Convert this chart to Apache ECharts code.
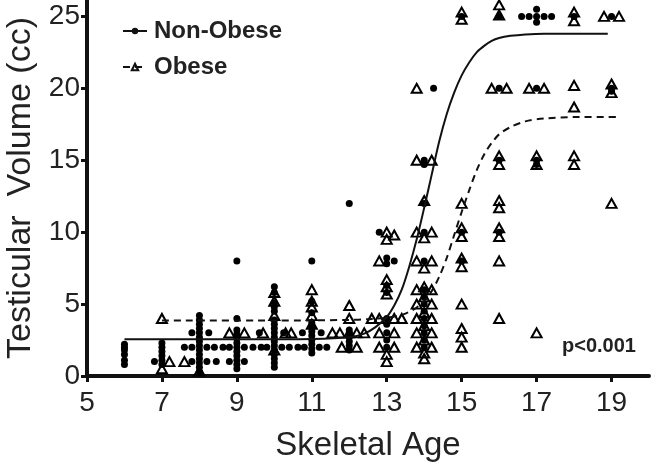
<!DOCTYPE html>
<html><head><meta charset="utf-8">
<script src="https://cdn.jsdelivr.net/npm/echarts@6/dist/echarts.min.js"></script>
<style>html,body{margin:0;padding:0;background:#fff}#c{width:652px;height:464px}</style>
</head><body><div id="c"></div>
<script>
const xTicks = [5, 7, 9, 11, 13, 15, 17, 19];
const yTicks = [0, 5, 10, 15, 20, 25];
const seriesNames = ['Non-Obese', 'Obese'];

const nonObesePoints = [
  [6,0.8],[6,1.1],[6,1.5],[6,1.8],[6,2.0],[6,2.2],
  [6.8,1.0],[7,0.8],[7,1.1],[7,1.4],[7,1.7],[7,2.0],[7,2.3],
  [8,0.3],[8,0.6],[8,0.9],[8,1.2],[8,1.5],[8,1.8],[8,2.1],[8,2.4],[8,2.7],[8,3.0],[8,3.3],[8,3.6],[8,3.9],[8,4.2],
  [7.8,3],[8.25,3],[7.8,1],[8.2,1],[8.45,1],[7.6,2],[7.8,2],[8.2,2],[8.4,2],[8.63,2],[8.8,2],
  [9,0.5],[9,0.8],[9,1.1],[9,1.4],[9,1.7],[9,2.0],[9,2.3],[9,2.6],[9,2.9],[9,3.2],[9,4],[9,8],
  [8.8,1],[9.2,1],[9.2,2],[9.43,2],[9.65,2],[9.8,2],
  [10,0.6],[10,0.9],[10,1.2],[10,1.5],[10,1.8],[10,2.1],[10,2.4],[10,2.7],[10,3.0],[10,3.3],[10,3.6],[10,3.9],[10,4.5],[10,4.8],[10,5.1],[10,5.8],[10,6.2],
  [9.6,3],[10.25,3],[10.2,2],[10.4,2],[10.63,2],[10.8,2],
  [11,1.6],[11,1.9],[11,2.2],[11,2.5],[11,2.8],[11,3.1],[11,3.4],[11,3.7],[11,4.4],[11,5.2],[11,8],
  [10.75,3],[11.25,3],[11.2,2],[11.4,2],
  [12,12],[12,1.8],[12,2.1],[12,2.4],[12,2.7],[12,3.0],[12,3.2],
  [12.8,10],[13,8.2],[13,7.8],[13.2,8],[13,6.3],[13,5.8],[13,4],[13,3.6],[13,3],[13,2.5],[13,2],
  [14,2],[14,2.5],[14,3],[14,3.5],[14,4],[14,4.5],[14,5],[14,5.5],[14,6],[14,8],[14,10],[14,12],[14,15],[14,14.7],[14.25,20],
  [15,25],[15,10],[15,8],
  [16,25],[16,20],[16,15],[16,10],
  [16.6,25],[16.8,25],[17,25],[17.2,25],[17.4,25],[17,25.5],[17,24.6],[17,20],[17,15],[17,14.7],
  [18,25],
  [19,25],[19,20],[19,19.8]
];

const obesePoints = [
  [7,4],[7,0.5],[7.2,1],
  [7.6,1],[8,0.35],
  [8.8,3],[9.2,3],
  [9.7,3],[10.3,3],[10.45,3],[10,5.8],[10,5.2],[10,4.2],[10,1.8],
  [11,6],[11,5.2],[11,4.8],[11,4.2],[11,3.6],
  [12,4.9],[12,4.0],[11.55,3],[11.75,3],[12,3],[12.2,3],[12.4,3],[11.8,2],[12.2,2],
  [13,10],[13.2,9.8],[13,9.5],[12.8,8],[13,6.7],[13,6.2],[13,5.7],[12.6,4],[12.8,4],[13.2,4],[13.4,4],
  [12.8,3],[13.2,3],[12.8,2],[13.2,2],[13,1.5],[13,1],
  [13.8,20],[13.8,15],[14.2,15],[14,12.2],[13.8,10],[14.2,10],[14,9.6],[13.8,8],[14.2,8],[14,7.5],
  [13.8,6],[14,6.2],[14.2,6],[13.8,5],[14.2,5],[14,5.5],[14,4.4],[13.8,4],[14.2,4],[14,3.5],
  [13.8,3],[14.2,3],[14,2.5],[13.8,2],[14.2,2],[14,1.6],[14,1.2],
  [15,25.3],[15,24.8],[15,12],[15,10.3],[15,9.7],[15,8.2],[15,7.6],[15,5],[15,3.3],[15,2.7],[15,2],
  [16,25.8],[16,25.1],[15.8,20],[16.2,20],[16,15.3],[16,14.7],[16,12.2],[16,11.7],[16,10.3],[16,9.7],[16,8],[16,4],
  [16.8,20],[17.2,20],[17,15.3],[17,14.7],[17,3],
  [18,25.3],[18,24.7],[18,20.2],[18,18.7],[18,15.3],[18,14.7],
  [18.8,25],[19.2,25],[19,20.3],[19,19.7],[19,12]
];

const nonObeseCurve = [
  [6,2.55],[9,2.55],[11,2.58],[12,2.7],[12.4,2.95],[12.7,3.4],[13,4.1],[13.2,4.9],[13.4,6.0],
  [13.6,7.6],[13.8,9.5],[14,11.7],[14.2,14.0],[14.4,16.3],[14.6,18.2],[14.8,19.7],[15,20.9],
  [15.2,21.8],[15.4,22.5],[15.6,22.95],[15.8,23.3],[16,23.5],[16.3,23.65],[16.7,23.75],[17.2,23.8],[18.9,23.8]
];

const obeseCurve = [
  [7,3.85],[10,3.85],[12,3.9],[12.5,3.95],[13,4.05],[13.4,4.25],[13.7,4.6],[14,5.2],[14.2,5.9],
  [14.4,6.9],[14.6,8.2],[14.8,9.8],[15,11.4],[15.2,12.9],[15.4,14.3],[15.6,15.4],[15.8,16.2],
  [16,16.8],[16.3,17.3],[16.7,17.7],[17.2,17.9],[18,18.0],[19.2,18.0]
];

const FONT = '"Liberation Sans", Arial, Helvetica, sans-serif';
const INK = '#111';
const chart = echarts.init(document.getElementById('c'), null, {renderer: 'canvas'});
chart.setOption({
  animation: false,
  backgroundColor: '#fff',
  grid: {left: 87, right: 3, top: 0, bottom: 88, containLabel: false, outerBoundsMode: 'none'},
  legend: {
    data: seriesNames,
    orient: 'vertical',
    left: 117, top: 14,
    itemWidth: 24, itemHeight: 8, itemGap: 12,
    textStyle: {fontFamily: FONT, fontWeight: 'bold', fontSize: 24, color: '#222', padding: [0, 0, 0, 2]}
  },
  xAxis: {
    type: 'value', min: 5, max: 20,
    name: 'Skeletal Age', nameLocation: 'middle', nameGap: 53,
    nameTextStyle: {fontFamily: FONT, fontSize: 33, color: '#222'},
    axisLine: {show: true, lineStyle: {color: INK, width: 4}},
    axisTick: {show: true, customValues: xTicks, length: 6, lineStyle: {color: INK, width: 3}},
    axisLabel: {customValues: xTicks, fontFamily: FONT, fontSize: 28, color: '#222', margin: 13},
    splitLine: {show: false}
  },
  yAxis: {
    type: 'value', min: 0, max: 26.14,
    name: 'Testicular  Volume (cc)', nameLocation: 'middle', nameGap: 49,
    nameTextStyle: {fontFamily: FONT, fontSize: 34, color: '#222'},
    axisLine: {show: true, lineStyle: {color: INK, width: 4}},
    axisTick: {show: true, customValues: yTicks, length: 6, lineStyle: {color: INK, width: 3}},
    axisLabel: {customValues: yTicks, fontFamily: FONT, fontSize: 28, color: '#222', margin: 7},
    splitLine: {show: false}
  },
  series: [
    {
      name: 'Non-Obese pts', type: 'scatter', data: nonObesePoints,
      symbol: 'circle', symbolSize: 7, itemStyle: {color: '#000', opacity: 1}, z: 3
    },
    {
      name: 'Obese pts', type: 'scatter', data: obesePoints,
      symbol: 'triangle', symbolSize: [10, 9],
      itemStyle: {color: 'rgba(255,255,255,0)', borderColor: '#000', borderWidth: 2, opacity: 1}, z: 4
    },
    {
      name: seriesNames[0], type: 'line', data: nonObeseCurve,
      smooth: 0.3, showSymbol: false,
      symbol: 'circle', symbolSize: 6,
      itemStyle: {color: INK},
      lineStyle: {color: INK, width: 2}, z: 5
    },
    {
      name: seriesNames[1], type: 'line', data: obeseCurve,
      smooth: 0.3, showSymbol: false,
      symbol: 'triangle', symbolSize: 8,
      itemStyle: {color: 'rgba(255,255,255,0)', borderColor: INK, borderWidth: 1.5},
      lineStyle: {color: INK, width: 2, type: [7, 5]}, z: 5
    }
  ],
  graphic: [{
    type: 'text', left: 562, top: 336,
    style: {text: 'p<0.001', font: 'bold 20px ' + FONT, fill: '#222'}
  }]
});
</script></body></html>
